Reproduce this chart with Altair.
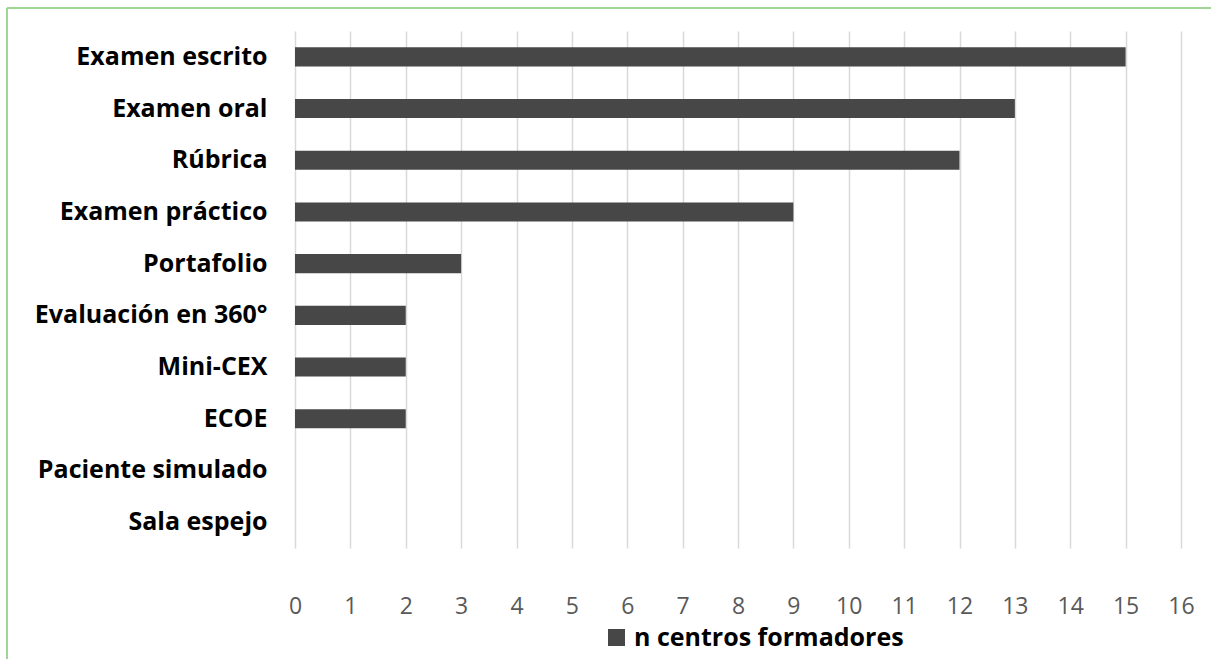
import altair as alt
import pandas as pd

categories = ["Examen escrito", "Examen oral", "Rúbrica", "Examen práctico", "Portafolio",
              "Evaluación en 360°", "Mini-CEX", "ECOE", "Paciente simulado", "Sala espejo"]
values = [15, 13, 12, 9, 3, 2, 2, 2, 0, 0]
series_name = "n centros formadores"
x_ticks = list(range(0, 17))

df = pd.DataFrame({"cat": categories, "n": values, "serie": [series_name] * len(categories)})

FONT = "Open Sans"

bars = alt.Chart(df).mark_bar(color="#474747").encode(
    y=alt.Y("cat:N", sort=categories, title=None,
            scale=alt.Scale(paddingInner=0.63, paddingOuter=0.315),
            axis=alt.Axis(labelFont=FONT, labelFontWeight="bold", labelFontSize=25,
                          labelColor="#000000", labelPadding=28, ticks=False, domain=False,
                          grid=False, labelLimit=300)),
    x=alt.X("n:Q", title=None,
            scale=alt.Scale(domain=[0, 16], nice=False),
            axis=alt.Axis(values=x_ticks, labelFont=FONT, labelFontSize=23, labelColor="#595959",
                          labelPadding=47, ticks=False, domain=False, grid=True, labelFlush=False,
                          gridColor="#d9d9d9", gridWidth=1.5, format="d")),
    color=alt.Color("serie:N", scale=alt.Scale(range=["#474747"]),
                    legend=alt.Legend(title=None, orient="none", legendX=309, legendY=594,
                                      symbolType="square", symbolSize=290,
                                      labelFont=FONT, labelFontWeight="bold", labelFontSize=25,
                                      labelColor="#000000", symbolStrokeWidth=0, labelLimit=400,
                                      labelOffset=5)),
)

frame_top = alt.Chart(df).mark_rule(color="#9fd696", strokeWidth=2).encode(
    x=alt.value(-288), x2=alt.value(930), y=alt.value(-23))
frame_left = alt.Chart(df).mark_rule(color="#9fd696", strokeWidth=2).encode(
    x=alt.value(-288), y=alt.value(-23), y2=alt.value(640))

chart = alt.layer(bars, frame_top, frame_left).properties(
    width=886, height=517,
    autosize=alt.AutoSizeParams(type="none"),
    padding={"left": 295, "top": 31, "right": 30, "bottom": 111},
    background="#ffffff",
).configure_view(stroke=None)

chart.save("out.html", embed_options={"renderer": "svg", "actions": False})
